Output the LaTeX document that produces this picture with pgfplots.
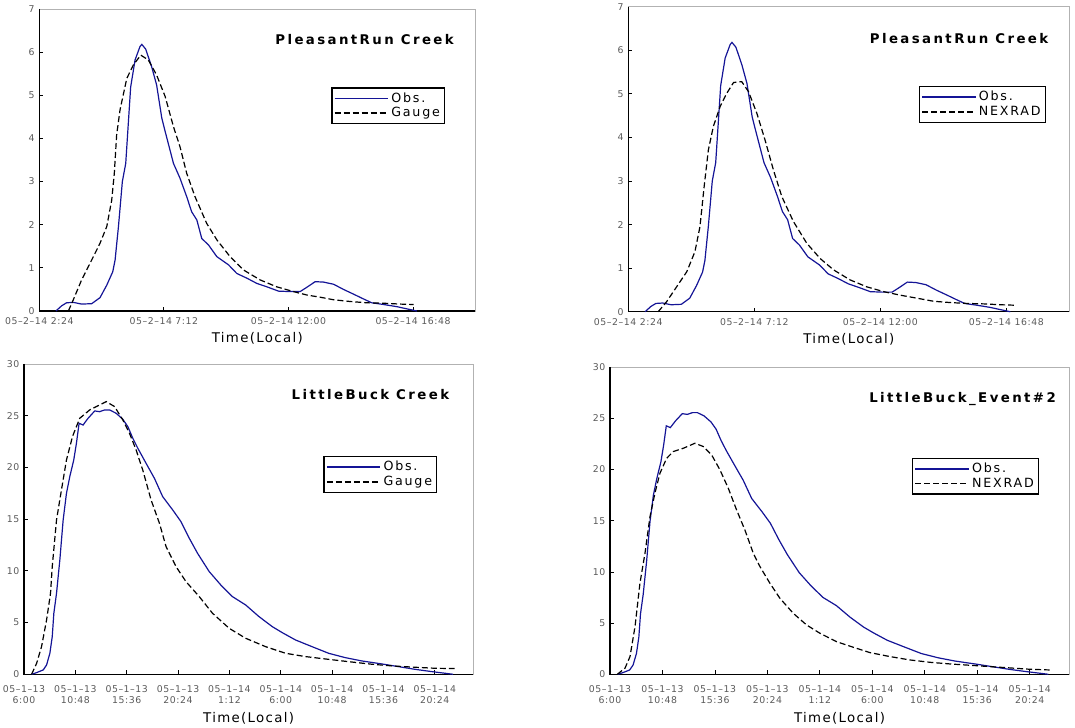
\documentclass[border=0pt]{standalone}
\usepackage{fontspec}
\setmainfont{DejaVu Sans}[LetterSpace=6]
\usepackage{pgfplots}
\usepackage{pgfplotstable}
\pgfplotsset{compat=1.18}

\definecolor{obsblue}{RGB}{20,20,150}
\definecolor{tickgray}{RGB}{90,90,90}

% hours since 05-2-14 0:00
\pgfplotstableread{
h v
3.04 0
3.26 0.12
3.45 0.19
3.71 0.20
4.03 0.16
4.42 0.17
4.74 0.31
5.00 0.60
5.23 0.91
5.32 1.18
5.45 1.96
5.60 3.00
5.73 3.42
5.92 5.19
6.09 5.82
6.28 6.13
6.35 6.18
6.50 6.07
6.73 5.66
6.92 5.24
7.12 4.47
7.25 4.16
7.57 3.42
7.82 3.08
8.08 2.65
8.27 2.30
8.47 2.11
8.66 1.68
8.92 1.53
9.24 1.26
9.69 1.07
10.01 0.87
10.40 0.76
10.78 0.64
11.17 0.56
11.62 0.46
12.07 0.45
12.45 0.45
12.71 0.55
13.03 0.68
13.35 0.67
13.74 0.62
14.12 0.50
14.51 0.39
14.89 0.28
15.21 0.19
15.67 0.15
16.18 0.10
16.56 0.05
16.95 0
}\prObs

\pgfplotstableread{
h v
3.52 0
3.71 0.26
4.03 0.72
4.35 1.10
4.74 1.57
5.00 1.96
5.19 2.57
5.29 3.19
5.38 4.08
5.51 4.66
5.77 5.39
6.02 5.70
6.31 5.93
6.60 5.82
6.92 5.47
7.25 4.97
7.57 4.27
7.82 3.81
8.08 3.19
8.40 2.65
8.85 2.03
9.24 1.65
9.75 1.26
10.27 0.95
10.91 0.72
11.55 0.56
12.19 0.45
12.71 0.37
13.22 0.32
13.74 0.26
14.38 0.22
15.02 0.19
15.67 0.18
16.31 0.16
16.82 0.15
}\prGauge

\pgfplotstableread{
h v
3.54 0
3.86 0.23
4.24 0.57
4.63 0.92
4.94 1.38
5.13 1.95
5.29 2.87
5.45 3.71
5.64 4.25
5.90 4.71
6.15 5.01
6.41 5.26
6.72 5.28
6.98 5.05
7.30 4.55
7.61 3.94
7.93 3.25
8.25 2.64
8.69 2.07
9.20 1.57
9.71 1.22
10.22 0.96
10.85 0.73
11.49 0.57
12.13 0.46
12.76 0.38
13.40 0.31
14.03 0.24
14.67 0.21
15.31 0.19
15.94 0.18
16.58 0.16
17.09 0.15
}\prRadar

% hours since 05-1-13 0:00
\pgfplotstableread{
h v
6.71 0
7.18 0.16
7.80 0.42
8.11 0.90
8.42 2.03
8.64 3.64
8.79 5.90
9.04 7.83
9.35 11.05
9.66 14.92
9.97 17.50
10.28 19.11
10.65 20.72
10.90 22.33
11.15 24.27
11.52 24.10
11.99 24.75
12.61 25.46
13.07 25.39
13.54 25.56
14.00 25.56
14.62 25.23
15.24 24.65
15.71 23.94
16.17 22.82
16.64 21.85
17.41 20.40
18.19 18.95
18.96 17.18
19.43 16.53
19.90 15.89
20.67 14.76
21.45 13.15
22.22 11.70
23.31 9.93
24.39 8.64
25.48 7.51
26.72 6.70
27.96 5.58
29.20 4.61
30.13 4.03
31.37 3.32
32.92 2.67
34.47 2.03
36.02 1.61
37.57 1.29
39.44 1.00
40.99 0.74
42.54 0.48
44.09 0.26
45.33 0.10
46.10 0
}\lbObs

\pgfplotstableread{
h v
6.71 0
7.18 1.06
7.64 2.67
8.11 5.25
8.48 7.83
8.64 10.41
9.04 14.92
9.50 17.82
9.97 20.72
10.53 22.98
11.21 24.75
12.14 25.56
13.07 26.04
13.69 26.36
14.47 25.88
15.24 24.59
15.86 23.30
16.48 21.69
17.10 19.75
17.88 16.85
18.66 14.60
19.28 12.34
20.21 10.41
21.14 8.96
22.38 7.51
23.62 5.90
25.17 4.45
26.72 3.48
28.58 2.67
30.44 2.03
32.30 1.71
34.16 1.48
36.33 1.22
38.51 0.97
40.37 0.81
42.54 0.68
44.40 0.58
46.26 0.55
}\lbGauge

\pgfplotstableread{
h v
6.67 0
7.37 0.59
7.83 1.73
8.29 4.66
8.74 8.89
9.20 11.82
9.66 15.41
10.11 17.69
10.57 19.64
11.18 21.10
11.79 21.76
12.71 22.08
13.77 22.57
14.53 22.25
15.30 21.43
16.06 19.97
16.82 18.18
17.58 16.06
18.34 14.10
19.11 11.82
19.72 10.52
20.63 8.89
21.54 7.43
22.76 5.96
23.98 4.82
25.20 4.01
26.72 3.19
28.25 2.64
29.77 2.12
31.60 1.73
33.43 1.40
35.26 1.17
37.09 1.01
38.92 0.88
40.75 0.75
42.58 0.62
44.40 0.49
46.23 0.42
}\lbRadar

\pgfplotsset{
  hydro/.style={
    scale only axis,
    axis line style={gray!60, line width=0.5pt},
    xtick pos=left, ytick pos=left,
    tick align=inside, major tick length=3pt,
    tick style={black, line width=0.6pt},
    ymin=0,
    ticklabel style={font=\fontsize{7}{8.5}\selectfont, text=tickgray},
    /pgf/number format/assume math mode=true,
    xlabel={Time(Local)},
    xlabel style={font=\fontsize{10}{12}\selectfont\addfontfeature{LetterSpace=10}, inner sep=0pt},
    legend cell align=left,
    legend style={draw=black, line width=1pt, font=\fontsize{9.5}{11}\selectfont\addfontfeature{LetterSpace=14},
      inner sep=1.5pt, row sep=-1.5pt, anchor=north east},
    legend image code/.code={\draw[##1, line width=1.1pt] (0pt,0pt) -- (40pt,0pt);},
    clip=false,
  },
  toprow/.style={
    hydro, xmin=2.4, xmax=19.2, ymax=7, ytick={0,1,...,7},
    xtick={2.4,7.2,12,16.8},
    xticklabel style={yshift=-1.5pt},
    xlabel style={yshift=-2.5pt},
    xticklabels={05--2--14 2:24, 05--2--14 7:12, 05--2--14 12:00, 05--2--14 16:48},
  },
  botrow/.style={
    hydro, xmin=6, xmax=48, ymax=30, ytick={0,5,...,30},
    xtick={6,10.8,15.6,20.4,25.2,30,34.8,39.6,44.4},
    xticklabel style={align=center, yshift=-5pt},
    xlabel style={yshift=-2.5pt},
    xticklabels={{05--1--13\\6:00},{05--1--13\\10:48},{05--1--13\\15:36},{05--1--13\\20:24},
      {05--1--14\\1:12},{05--1--14\\6:00},{05--1--14\\10:48},{05--1--14\\15:36},{05--1--14\\20:24}},
  },
  obs/.style={obsblue, line width=0.9pt},
  est/.style={black, line width=0.9pt, dash pattern=on 4.5pt off 2.25pt},
}
\newcommand{\frameaxis}{\draw[black, line width=1.1pt] (rel axis cs:0,1) -- (rel axis cs:0,0) -- (rel axis cs:1,0);}
\newcommand{\plottitle}[3]{\node[font=\fontsize{10}{12}\selectfont\bfseries\addfontfeature{LetterSpace=18}] at (rel axis cs:#1,#2) {#3};}

\begin{document}
\begin{tikzpicture}
\useasboundingbox (0pt,0pt) rectangle (806.25pt,546pt);

% top left
\begin{axis}[toprow, at={(29.48pt,312.75pt)}, anchor=south west, width=327pt, height=226.5pt,
  legend style={at={(rel axis cs:0.931,0.741)}}]
  \frameaxis
  \addplot[obs] table {\prObs};
  \addlegendentry{Obs.}
  \addplot[est] table {\prGauge};
  \addlegendentry{Gauge}
  \plottitle{0.746}{0.90}{PleasantRun Creek}
\end{axis}

% top right
\begin{axis}[toprow, at={(471.2pt,312.2pt)}, anchor=south west, width=330.8pt, height=228.8pt,
  legend style={at={(rel axis cs:0.947,0.74)}}]
  \frameaxis
  \addplot[obs] table {\prObs};
  \addlegendentry{Obs.}
  \addplot[est] table {\prRadar};
  \addlegendentry{NEXRAD}
  \plottitle{0.75}{0.896}{PleasantRun Creek}
\end{axis}

% bottom left
\begin{axis}[botrow, at={(18pt,40.3pt)}, anchor=south west, width=337pt, height=232.7pt,
  legend style={at={(rel axis cs:0.92,0.704)}}]
  \frameaxis
  \addplot[obs] table {\lbObs};
  \addlegendentry{Obs.}
  \addplot[est] table {\lbGauge};
  \addlegendentry{Gauge}
  \plottitle{0.771}{0.90}{LittleBuck Creek}
\end{axis}

% bottom right
\begin{axis}[botrow, at={(457.5pt,40.3pt)}, anchor=south west, width=344.3pt, height=230.3pt,
  legend style={at={(rel axis cs:0.935,0.705)}}]
  \frameaxis
  \addplot[obs] table {\lbObs};
  \addlegendentry{Obs.}
  \addplot[est] table {\lbRadar};
  \addlegendentry{NEXRAD}
  \plottitle{0.768}{0.897}{LittleBuck\_Event\#2}
\end{axis}
\end{tikzpicture}
\end{document}
